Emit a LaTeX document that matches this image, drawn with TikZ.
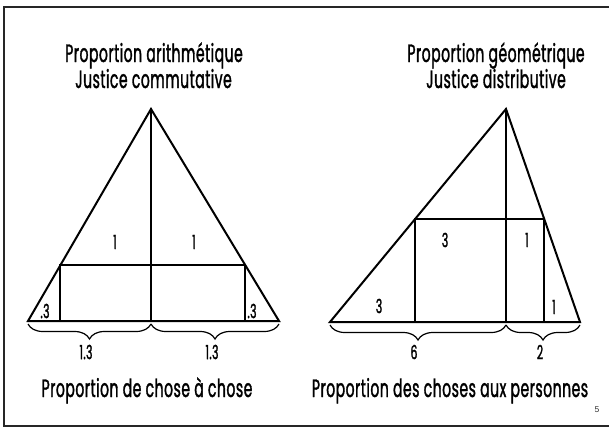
\documentclass[tikz,border=0pt]{standalone}
\usepackage{fontspec}
\setmainfont[FakeStretch=0.56, FakeBold=1.3, LetterSpace=2]{Poppins}
\newfontfamily\pagefont{Liberation Sans}
\usetikzlibrary{decorations.pathreplacing,calc}
\begin{document}
\begin{tikzpicture}[x=1pt,y=-1pt,
  fig/.style={line width=2pt, line join=miter, line cap=rect},
  bracestyle/.style={decorate, decoration={brace, mirror, amplitude=15pt, raise=3pt}, line width=1.2pt},
  title/.style={anchor=base, inner sep=0pt, font=\fontsize{25}{28}\selectfont},
  num/.style={inner sep=0pt, font=\fontsize{19.5}{21}\selectfont}]
\useasboundingbox (0,0) rectangle (609,428);
\draw[line width=2.4pt, color=black!85] (615,7) -- (4,7) -- (4,426) -- (615,426);
% left triangle
\coordinate (LA) at (151,109);
\coordinate (LB) at (28,321);
\coordinate (LC) at (279,321);
\coordinate (LM) at (151,321);
\coordinate (LP) at ($(LB)!0.2642!(LA)$);
\coordinate (LQ) at ($(LC)!0.2642!(LA)$);
\coordinate (LPb) at (LP |- LB);
\coordinate (LQb) at (LQ |- LC);
\draw[fig] (LB) -- (LA) -- (LC) -- cycle;
\draw[fig] (LA) -- (LM);
\draw[fig] (LP) -- (LQ);
\draw[fig] (LP) -- (LPb);
\draw[fig] (LQ) -- (LQb);
\draw[bracestyle] (LB) -- (LM);
\draw[bracestyle] (LM) -- (LC);
% right triangle
\coordinate (RA) at (506,109);
\coordinate (RB) at (330,322);
\coordinate (RC) at (580,322);
\coordinate (RM) at (506,322);
\coordinate (RP) at ($(RB)!0.4836!(RA)$);
\coordinate (RQ) at ($(RC)!0.4836!(RA)$);
\coordinate (RPb) at (RP |- RB);
\coordinate (RQb) at (RQ |- RC);
\draw[fig] (RB) -- (RA) -- (RC) -- cycle;
\draw[fig] (RA) -- (RM);
\draw[fig] (RP) -- (RQ);
\draw[fig] (RP) -- (RPb);
\draw[fig] (RQ) -- (RQb);
\draw[bracestyle] (RB) -- (RM);
\draw[bracestyle] (RM) -- (RC);
% titles
\node[title] (t1) at (154,62) {Proportion arithmétique};
\node[title] (t2) at (153.5,88) {Justice commutative};
\node[title] (t3) at (496,62) {Proportion géométrique};
\node[title] (t4) at (496,88) {Justice distributive};
\node[title] (b1) at (147,397) {Proportion de chose à chose};
\node[title] (b2) at (450,397) {Proportion des choses aux personnes};
% numbers
\node[num] (n1) at (45,311) {.3};
\node[num] (n2) at (252,311) {.3};
\node[num] (n3) at (115,242) {1};
\node[num] (n4) at (194,242) {1};
\node[num] (n5) at (86,352) {1.3};
\node[num] (n6) at (212,352) {1.3};
\node[num] (n7) at (445,240) {3};
\node[num] (n8) at (527,240) {1};
\node[num] (n9) at (379,306) {3};
\node[num] (n10) at (554,307) {1};
\node[num] (n11) at (414,352) {6};
\node[num] (n12) at (540,352) {2};
\node[inner sep=0pt, font=\pagefont\fontsize{8.5}{9}\selectfont, text=black!80] (pg) at (597,410) {5};
\end{tikzpicture}
\end{document}
